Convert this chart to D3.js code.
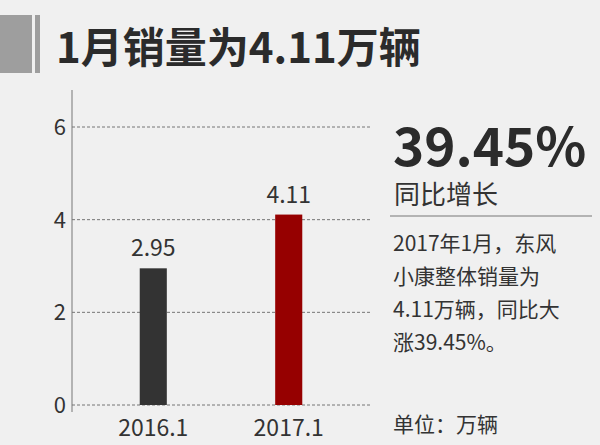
<!DOCTYPE html>
<html><head><meta charset="utf-8">
<script src="https://cdn.jsdelivr.net/npm/d3@7"></script>
<style>body{margin:0;background:#f0f0f0}</style>
</head><body>
<script>
// data
const categories = ["2016.1", "2017.1"];
const values = [2.95, 4.11];
const colors = ["#333333", "#960000"];
const yTicks = [0, 2, 4, 6];
const noteLines = ["2017年1月，东风", "小康整体销量为", "4.11万辆，同比大", "涨39.45%。"];

const W = 600, H = 445;
const font = "'Noto Sans CJK SC','Open Sans',sans-serif";
let svg = d3.select("body").append("svg").attr("width", W).attr("height", H)
  .style("font-family", font);
svg.append("rect").attr("width", W).attr("height", H).attr("fill", "#f0f0f0");

// title block
svg.append("rect").attr("x", 0).attr("y", 15).attr("width", 32).attr("height", 58).attr("fill", "#9e9e9e");
svg.append("rect").attr("x", 35).attr("y", 15).attr("width", 5).attr("height", 58).attr("fill", "#9e9e9e");
svg.append("text").attr("x", 56).attr("y", 63).attr("font-size", 42).attr("font-weight", "bold")
  .attr("fill", "#2b2b2b").text("1月销量为4.11万辆");

// scales
let y = d3.scaleLinear().domain([0, 6]).range([405, 127]);
let x = d3.scaleBand().domain(categories).range([72, 370]).paddingInner(0.8).paddingOuter(0.5);

// grid
svg.append("g").selectAll("line").data(yTicks).enter().append("line")
  .attr("x1", 72).attr("x2", 370).attr("y1", d=>y(d)).attr("y2", d=>y(d))
  .attr("stroke", "#555").attr("stroke-dasharray", "3,2").attr("stroke-width", 0.8);
svg.append("line").attr("x1", 72).attr("x2", 72).attr("y1", 90).attr("y2", 412)
  .attr("stroke", "#777").attr("stroke-width", 1);
svg.append("g").selectAll("text").data(yTicks).enter().append("text")
  .attr("x", 66).attr("y", d=>y(d)+8).attr("text-anchor", "end")
  .attr("font-size", 22).attr("fill", "#333").text(d=>d);

// bars
svg.append("g").selectAll("rect").data(values).enter().append("rect")
  .attr("x", (d,i)=>x(categories[i])).attr("width", x.bandwidth())
  .attr("y", d=>y(d)).attr("height", d=>y(0)-y(d)).attr("fill", (d,i)=>colors[i]);
svg.append("g").selectAll("text").data(values).enter().append("text")
  .attr("x", (d,i)=>x(categories[i])+x.bandwidth()/2).attr("y", d=>y(d)-12)
  .attr("text-anchor", "middle").attr("font-size", 23).attr("fill", "#333").text(d=>d.toFixed(2));
svg.append("g").selectAll("text").data(categories).enter().append("text")
  .attr("x", d=>x(d)+x.bandwidth()/2).attr("y", 436)
  .attr("text-anchor", "middle").attr("font-size", 23).attr("fill", "#333").text(d=>d);

// right panel
svg.append("text").attr("x", 393).attr("y", 166).attr("font-size", 53).attr("font-weight", "bold")
  .attr("fill", "#2b2b2b").text("39.45%");
svg.append("text").attr("x", 394).attr("y", 204).attr("font-size", 26).attr("fill", "#333").text("同比增长");
svg.append("line").attr("x1", 390).attr("x2", 592).attr("y1", 216).attr("y2", 216)
  .attr("stroke", "#777").attr("stroke-width", 1);
svg.append("g").selectAll("text").data(noteLines).enter().append("text")
  .attr("x", 393).attr("y", (d,i)=>251+i*33).attr("font-size", 21).attr("fill", "#333").text(d=>d);
svg.append("text").attr("x", 393).attr("y", 432).attr("font-size", 21).attr("fill", "#333").text("单位：万辆");
</script>
</body></html>
